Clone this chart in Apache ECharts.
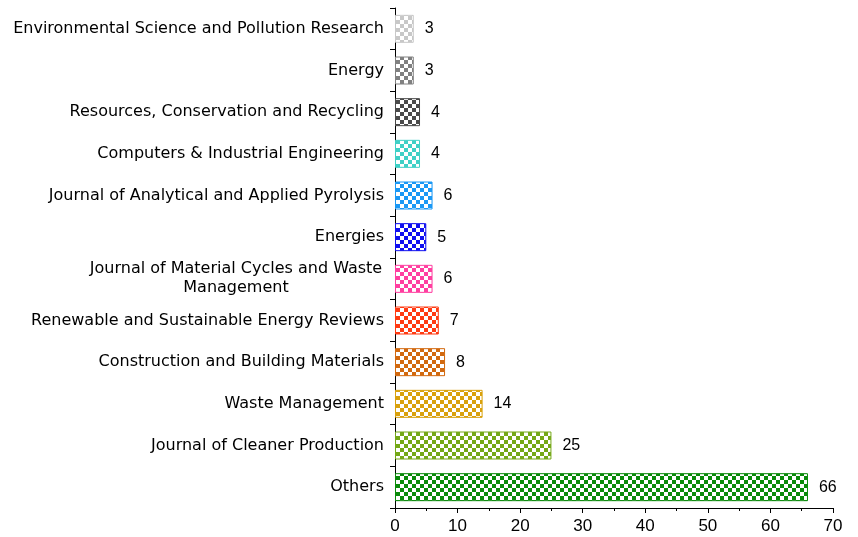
<!DOCTYPE html>
<html>
<head>
<meta charset="utf-8">
<script src="https://cdn.jsdelivr.net/npm/echarts@6/dist/echarts.min.js"></script>
<style>
  html, body { margin: 0; padding: 0; background: #fff; }
  #main { width: 858px; height: 537px; }
</style>
</head>
<body>
<div id="main"></div>
<script>
// data, bottom to top
const journals = [
  'Others',
  'Journal of Cleaner Production',
  'Waste Management',
  'Construction and Building Materials',
  'Renewable and Sustainable Energy Reviews',
  'Journal of Material Cycles and Waste\nManagement',
  'Energies',
  'Journal of Analytical and Applied Pyrolysis',
  'Computers & Industrial Engineering',
  'Resources, Conservation and Recycling',
  'Energy',
  'Environmental Science and Pollution Research',
];
const counts = [66, 25, 14, 8, 7, 6, 5, 6, 4, 4, 3, 3];
const barColors = [
  '#0a8a0a', '#74a817', '#d9a10d', '#d2690f', '#ff3a12', '#ff3fa0',
  '#1010f0', '#1a98f5', '#3fd0c6', '#4a4a4a', '#808080', '#c8c8c8',
];
const xTicks = [0, 10, 20, 30, 40, 50, 60, 70];

// checker pattern: coloured squares on white
function checker(color) {
  const size = 4;
  const cv = document.createElement('canvas');
  cv.width = size * 2;
  cv.height = size * 2;
  const ctx = cv.getContext('2d');
  ctx.fillStyle = '#fff';
  ctx.fillRect(0, 0, size * 2, size * 2);
  ctx.fillStyle = color;
  ctx.fillRect(0, 0, size, size);
  ctx.fillRect(size, size, size, size);
  return { image: cv, repeat: 'repeat' };
}

const labelFont = 'DejaVu Sans, sans-serif';
const numFont = 'Liberation Sans, Arial, sans-serif';

const chart = echarts.init(document.getElementById('main'));
chart.setOption({
  animation: false,
  grid: { left: 395, right: 25, top: 8, bottom: 29, containLabel: false },
  xAxis: {
    type: 'value',
    min: xTicks[0],
    max: xTicks[xTicks.length - 1],
    interval: 10,
    axisLine: { show: true, lineStyle: { color: '#000', width: 1 } },
    axisTick: { show: true, inside: false, length: 5, lineStyle: { color: '#000' } },
    minorTick: { show: true, splitNumber: 2, length: 3, lineStyle: { color: '#000' } },
    splitLine: { show: false },
    axisLabel: { color: '#000', fontSize: 17, fontFamily: numFont, margin: 10 },
  },
  yAxis: {
    type: 'category',
    data: journals,
    axisLine: { show: true, lineStyle: { color: '#000', width: 1 } },
    axisTick: { show: true, inside: false, length: 5, lineStyle: { color: '#000' } },
    axisLabel: {
      color: '#000',
      fontSize: 16,
      fontFamily: labelFont,
      margin: 11,
      lineHeight: 19,
      formatter: (v) => (v.indexOf('\n') >= 0 ? '{c|' + v + '}' : v),
      rich: {
        c: {
          fontSize: 16, fontFamily: labelFont, lineHeight: 19,
          width: 296, align: 'center', color: '#000',
        },
      },
    },
  },
  series: [
    {
      type: 'bar',
      barWidth: 28,
      data: counts.map((v, i) => ({
        value: v,
        itemStyle: {
          color: checker(barColors[i]),
          borderColor: barColors[i],
          borderWidth: 1,
        },
      })),
      label: {
        show: true,
        position: 'right',
        distance: 11,
        color: '#000',
        fontSize: 16,
        fontFamily: numFont,
      },
    },
  ],
});
</script>
</body>
</html>
